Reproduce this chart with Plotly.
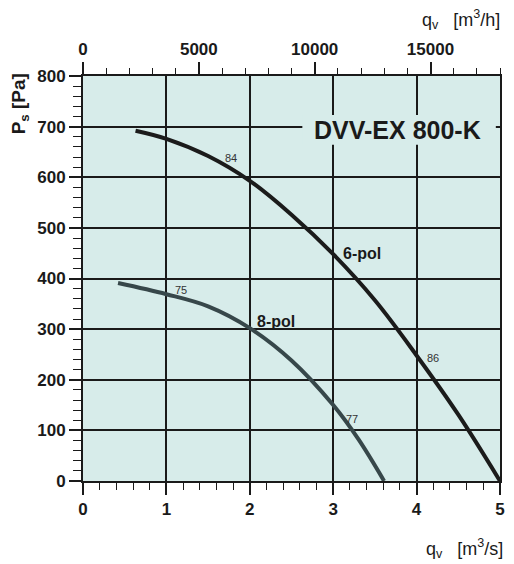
import plotly.graph_objects as go

# fan curves, static pressure vs. air flow
q_6pol = [0.63, 1.0, 1.5, 2.0, 2.5, 3.0, 3.5, 4.0, 4.5, 5.0]
p_6pol = [692, 676, 642, 593, 526, 448, 357, 248, 131, 0]

q_8pol = [0.42, 1.0, 1.5, 2.0, 2.5, 3.0, 3.3, 3.61]
p_8pol = [391, 369, 345, 302, 238, 150, 83, 0]

top_ticks = [0, 5000, 10000, 15000]
top_labels = ["0", "5000", "10000", "15000"]

FONT = "Arial, Liberation Sans, sans-serif"
BG = "#d7ecea"
INK = "#1a1a1a"

fig = go.Figure()
fig.add_trace(go.Scatter(x=q_6pol, y=p_6pol, mode="lines", name="6-pol",
                         line=dict(color="#1b1b1b", width=4, shape="spline")))
fig.add_trace(go.Scatter(x=q_8pol, y=p_8pol, mode="lines", name="8-pol",
                         line=dict(color="#37474a", width=4, shape="spline")))
# dummy trace so the top axis (m3/h) shows up
fig.add_trace(go.Scatter(x=[0, 18000], y=[0, 0], xaxis="x2", mode="lines",
                         line=dict(width=0), hoverinfo="skip", showlegend=False))

tickfont = dict(family=FONT, size=17, color=INK, weight="bold")

# page body has an 8px margin -> figure is 8px smaller and margins shifted
fig.update_layout(
    width=506, height=556,
    margin=dict(l=75, r=9, t=68, b=83),
    paper_bgcolor="white", plot_bgcolor=BG,
    showlegend=False,
    xaxis=dict(range=[0, 5], tick0=0, dtick=1, ticks="outside", ticklen=12,
               tickwidth=1.5, tickcolor=INK, tickfont=tickfont,
               showline=True, linecolor=INK, linewidth=2, mirror=True,
               showgrid=True, gridcolor=INK, gridwidth=2, zeroline=False,
               minor=dict(dtick=0.2, ticks="outside", ticklen=7, tickwidth=1.2,
                          tickcolor=INK, showgrid=False)),
    xaxis2=dict(range=[0, 18000], overlaying="x", side="top", tickmode="array",
                tickvals=top_ticks, ticktext=top_labels,
                ticks="outside", ticklen=13, tickwidth=1.5, tickcolor=INK,
                tickfont=tickfont, showgrid=False, zeroline=False, showline=False,
                minor=dict(tickmode="linear", tick0=0, dtick=1000, ticks="outside",
                           ticklen=7, tickwidth=1.2, tickcolor=INK, showgrid=False)),
    yaxis=dict(range=[0, 800], tick0=0, dtick=100, ticks="outside", ticklen=12,
               tickwidth=1.5, tickcolor=INK, tickfont=tickfont,
               showline=True, linecolor=INK, linewidth=2, mirror=True,
               showgrid=True, gridcolor=INK, gridwidth=2, zeroline=False,
               minor=dict(dtick=20, ticks="outside", ticklen=8, tickwidth=1.2,
                          tickcolor=INK, showgrid=False)),
)

# title box covering the grid
fig.add_shape(type="rect", xref="x", yref="y", x0=2.63, x1=4.95, y0=664, y1=723,
              fillcolor=BG, line=dict(width=0), layer="between")
fig.add_annotation(x=3.77, y=694, xref="x", yref="y", text="DVV-EX 800-K",
                   showarrow=False, font=dict(family=FONT, size=25, color=INK,
                                              weight="bold"))

# curve labels
small = dict(family=FONT, size=11, color="#333")
for x, y, t in [(1.78, 638, "84"), (1.17, 377, "75"), (4.2, 243, "86"), (3.23, 122, "77")]:
    fig.add_annotation(x=x, y=y, text=t, showarrow=False, font=small)
big = dict(family=FONT, size=16, color=INK, weight="bold")
fig.add_annotation(x=3.34, y=450, text="6-pol", showarrow=False, font=big)
fig.add_annotation(x=2.31, y=316, text="8-pol", showarrow=False, font=big)

# axis titles
tfont = dict(family=FONT, size=18, color=INK)
fig.add_annotation(xref="paper", yref="paper", x=1.005, y=1.0, yshift=42,
                   xanchor="right", yanchor="bottom", showarrow=False, font=tfont,
                   text="q<sub>v</sub>   [m<sup>3</sup>/h]")
fig.add_annotation(xref="paper", yref="paper", x=1.012, y=0, yshift=-53,
                   xanchor="right", yanchor="top", showarrow=False, font=tfont,
                   text="q<sub>v</sub>   [m<sup>3</sup>/s]")
fig.add_annotation(xref="paper", yref="paper", x=0, xshift=-63, y=0.93,
                   xanchor="center", yanchor="middle", textangle=-90, showarrow=False,
                   font=dict(family=FONT, size=19, color=INK, weight="bold"),
                   text="P<sub>s</sub> [Pa]")

fig.write_html("out.html")
